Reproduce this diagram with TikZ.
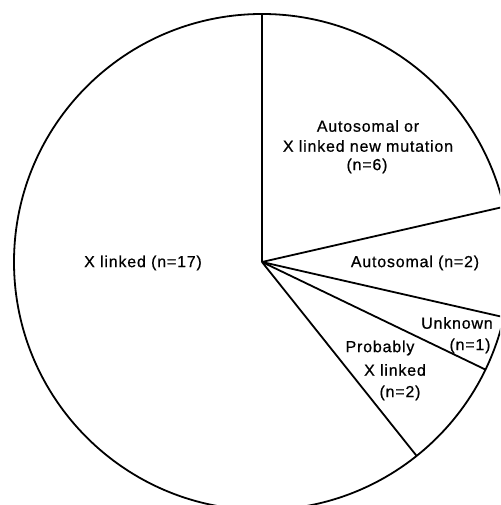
\documentclass[tikz,border=0pt]{standalone}
\usepackage{fontspec}
\setmainfont{Liberation Sans}[LetterSpace=5,FakeBold=0.6]
\begin{document}
\begin{tikzpicture}[x=1pt,y=1pt,
  edge/.style={line width=1.8pt,black},
  lbl/.style={inner sep=0pt,font=\fontsize{16}{19}\selectfont}]
\useasboundingbox (0,0) rectangle (500,505);
\clip (0,0) rectangle (500,505);
\coordinate (c) at (262,243);
\draw[edge] (c) circle[radius=248];
\draw[edge] (c) -- ++(90:248);
\draw[edge] (c) -- ++(12.86:248);
\draw[edge] (c) -- ++(-12.86:248);
\draw[edge] (c) -- ++(-25.71:248);
\draw[edge] (c) -- ++(-51.43:248);
\node[lbl] (m1) at (368,379) {Autosomal or};
\node[lbl] (m2) at (368,359) {X linked new mutation};
\node[lbl] (m3) at (367,339) {(n=6)};
\node[lbl] (a1) at (415,242) {Autosomal (n=2)};
\node[lbl] (u1) at (457,182) {Unknown};
\node[lbl] (u2) at (470,159) {(n=1)};
\node[lbl] (p1) at (380,157) {Probably};
\node[lbl] (p2) at (395,135) {X linked};
\node[lbl] (p3) at (400,112) {(n=2)};
\node[lbl] (x1) at (143,242) {X linked (n=17)};
\end{tikzpicture}
\end{document}
